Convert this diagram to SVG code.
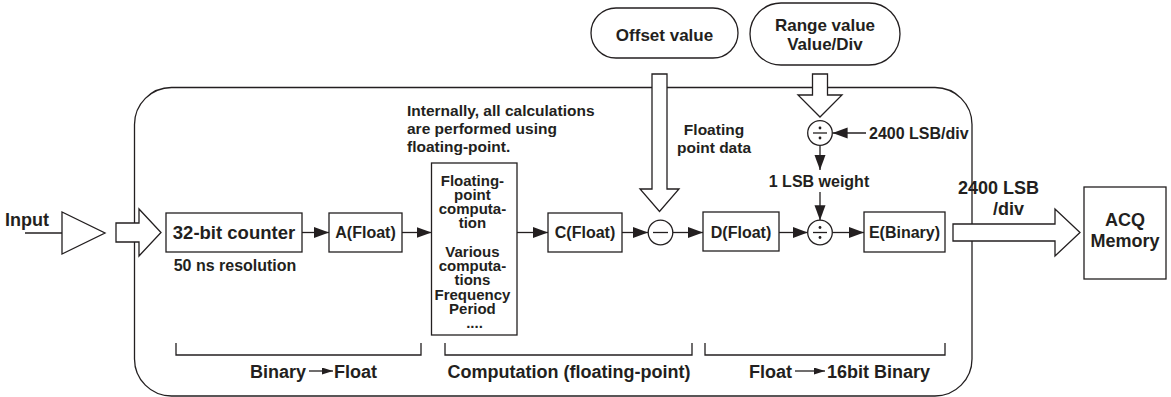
<svg xmlns="http://www.w3.org/2000/svg" width="1171" height="397" viewBox="0 0 1171 397">
<style>
.box{fill:#fff;stroke:#231f20;stroke-width:1.3}
.ln{fill:none;stroke:#231f20;stroke-width:1.3}
.ar{fill:none;stroke:#231f20;stroke-width:1.3;marker-end:url(#ah)}
.sar{fill:none;stroke:#231f20;stroke-width:1.3;marker-end:url(#sh)}
.hol{fill:#fff;stroke:#231f20;stroke-width:1.3;stroke-linejoin:miter}
text{font-family:"Liberation Sans",Arial,Helvetica,sans-serif;font-weight:bold;fill:#231f20}
.s16{font-size:16px}
.s155{font-size:15.5px}
.s15{font-size:15px}
.s18{font-size:18px}
.s17{font-size:17px}
.c{text-anchor:middle}
.dot{fill:#231f20}
</style>
<defs>
<marker id="ah" markerUnits="userSpaceOnUse" markerWidth="16" markerHeight="12" refX="15" refY="5.5" orient="auto">
<path d="M0,0 L15,5.5 L0,11 z" fill="#231f20"/>
</marker>
<marker id="sh" markerUnits="userSpaceOnUse" markerWidth="12" markerHeight="8" refX="11" refY="3.5" orient="auto">
<path d="M0,0 L11,3.5 L0,7 z" fill="#231f20"/>
</marker>
</defs>

<g id="frame">
<rect x="134.5" y="87.5" width="837.5" height="308.5" rx="37" ry="37" class="ln"/>
</g>

<g id="connectors">
<line x1="25" y1="233" x2="62" y2="233" class="ln"/>
<line x1="302" y1="232.5" x2="329" y2="232.5" class="ar"/>
<line x1="402" y1="232.5" x2="431.5" y2="232.5" class="ar"/>
<line x1="517" y1="232.5" x2="548" y2="232.5" class="ar"/>
<line x1="622" y1="232.5" x2="648" y2="232.5" class="ar"/>
<line x1="673" y1="232.5" x2="703" y2="232.5" class="ar"/>
<line x1="779" y1="232.5" x2="807.7" y2="232.5" class="ar"/>
<line x1="832.3" y1="232.5" x2="864" y2="232.5" class="ar"/>
<line x1="820" y1="145.3" x2="820" y2="170" class="ar"/>
<line x1="820" y1="192" x2="820" y2="220.2" class="ar"/>
<line x1="866" y1="133" x2="832.6" y2="133" class="ar"/>
<polygon class="hol" points="116,223 139,223 139,209 161,232.5 139,256 139,242 116,242"/>
<polygon class="hol" points="652,74 667,74 667,189 679,189 659.5,211.5 640,189 652,189"/>
<polygon class="hol" points="812.5,74 827.5,74 827.5,95 842,95 820,117 798,95 812.5,95"/>
<polygon class="hol" points="953,224 1055,224 1055,209 1080,232.5 1055,256 1055,241 953,241"/>
</g>

<g id="input">
<text x="5" y="226" class="s18">Input</text>
<polygon class="box" points="62,212 62,254 105,233"/>
</g>

<g id="counter">
<rect x="166" y="213" width="136" height="39" class="box"/>
<text x="234" y="238.5" class="c" style="font-size:18.5px">32-bit counter</text>
<text x="235" y="271" class="s16 c">50 ns resolution</text>
</g>

<g id="afloat">
<rect x="329" y="213" width="73" height="39" class="box"/>
<text x="365.5" y="238" class="s16 c">A(Float)</text>
</g>

<g id="note">
<text x="407" y="116" class="s155">Internally, all calculations</text>
<text x="407" y="134" class="s155">are performed using</text>
<text x="407" y="152" class="s155">floating-point.</text>
</g>

<g id="fpbox">
<rect x="431.5" y="163" width="85.5" height="172" class="box"/>
<text class="s15 c" x="474.5">
<tspan x="474.5" y="186">Floating-</tspan>
<tspan x="474.5" y="200.2">point</tspan>
<tspan x="474.5" y="214.4">computa-</tspan>
<tspan x="474.5" y="228.2">tion</tspan>
<tspan x="474.5" y="257">Various</tspan>
<tspan x="474.5" y="271.2">computa-</tspan>
<tspan x="474.5" y="285.4">tions</tspan>
<tspan x="474.5" y="299.6">Frequency</tspan>
<tspan x="474.5" y="313.8">Period</tspan>
<tspan x="474.5" y="328">....</tspan>
</text>
</g>

<g id="cfloat">
<rect x="548" y="213" width="74" height="39" class="box"/>
<text x="585" y="238" class="s16 c">C(Float)</text>
</g>

<g id="minus">
<circle cx="660.5" cy="232.5" r="12.3" class="box"/>
<line x1="653" y1="232.5" x2="668" y2="232.5" class="ln"/>
</g>

<g id="offset">
<rect x="591" y="8" width="147" height="50" rx="25" ry="25" class="box"/>
<text x="664.5" y="41" class="s17 c">Offset value</text>
</g>

<g id="fpdata">
<text x="714" y="135" class="s155 c">Floating</text>
<text x="714" y="153" class="s155 c">point data</text>
</g>

<g id="dfloat">
<rect x="703" y="212" width="76" height="39" class="box"/>
<text x="741" y="238" class="s16 c">D(Float)</text>
</g>

<g id="range">
<rect x="750" y="3" width="150" height="62" rx="31" ry="31" class="box"/>
<text x="825" y="31" class="s17 c">Range value</text>
<text x="825" y="50" class="s17 c">Value/Div</text>
</g>

<g id="div1">
<circle cx="820" cy="133" r="12.3" class="box"/>
<line x1="813" y1="133" x2="827" y2="133" class="ln"/>
<circle cx="820" cy="128" r="1.4" class="dot"/>
<circle cx="820" cy="138" r="1.4" class="dot"/>
<text x="869" y="138.5" class="s16">2400 LSB/div</text>
</g>

<g id="lsbweight">
<text x="819" y="187" class="s16 c">1 LSB weight</text>
</g>

<g id="div2">
<circle cx="820" cy="232.5" r="12.3" class="box"/>
<line x1="813" y1="232.5" x2="827" y2="232.5" class="ln"/>
<circle cx="820" cy="227.5" r="1.4" class="dot"/>
<circle cx="820" cy="237.5" r="1.4" class="dot"/>
</g>

<g id="ebinary">
<rect x="864" y="212" width="81" height="40" class="box"/>
<text x="904.5" y="238" class="s16 c">E(Binary)</text>
</g>

<g id="outlabel">
<text x="958" y="194" class="s18">2400 LSB</text>
<text x="993" y="215" class="s18">/div</text>
</g>

<g id="acq">
<rect x="1084" y="187" width="82" height="92" class="box"/>
<text x="1125" y="226" class="s18 c">ACQ</text>
<text x="1125" y="247" class="s18 c">Memory</text>
</g>

<g id="brackets">
<polyline points="176,343 176,355 421,355 421,343" class="ln"/>
<polyline points="445,343 445,355 692,355 692,343" class="ln"/>
<polyline points="705,343 705,355 945,355 945,343" class="ln"/>
<text x="250" y="378" class="s18">Binary</text>
<line x1="309" y1="371" x2="333" y2="371" class="sar"/>
<text x="334" y="378" class="s18">Float</text>
<text x="569" y="378" class="s18 c">Computation (floating-point)</text>
<text x="749" y="378" class="s18">Float</text>
<line x1="795" y1="371" x2="825" y2="371" class="sar"/>
<text x="827" y="378" class="s18">16bit Binary</text>
</g>
</svg>
